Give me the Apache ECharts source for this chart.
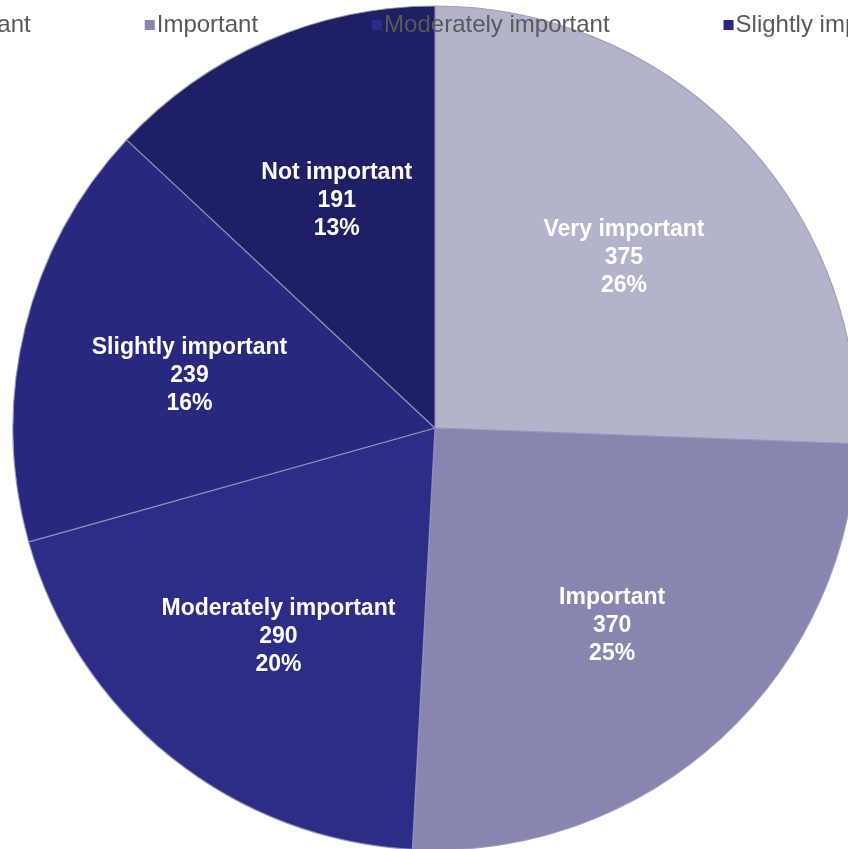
<!DOCTYPE html>
<html>
<head>
<meta charset="utf-8">
<script src="https://cdn.jsdelivr.net/npm/echarts@6/dist/echarts.min.js"></script>
<style>
html,body{margin:0;padding:0;background:#fff;}
#chart{width:848px;height:849px;}
</style>
</head>
<body>
<div id="chart"></div>
<script>
const categories = ['Very important', 'Important', 'Moderately important', 'Slightly important', 'Not important'];
const values = [375, 370, 290, 239, 191];
const colors = ['#B3B3CB', '#8886B0', '#2D2D88', '#28287E', '#1F1F66'];

const chart = echarts.init(document.getElementById('chart'), null, {renderer: 'canvas'});
const CX = 435, CY = 428, R = 422;

chart.setOption({
  animation: false,
  backgroundColor: '#ffffff',
  textStyle: {fontFamily: 'Arial, "Liberation Sans", sans-serif'},
  legend: {
    left: -141,
    top: 8,
    width: 1600,
    orient: 'horizontal',
    itemWidth: 10,
    itemHeight: 10,
    itemGap: 114,
    icon: 'rect',
    itemStyle: {borderWidth: 0},
    data: categories,
    textStyle: {color: '#595959', fontSize: 24, fontFamily: 'Arial, "Liberation Sans", sans-serif', padding: [0, 0, 0, -3]}
  },
  series: [{
    type: 'pie',
    center: [CX, CY],
    radius: [0, R],
    startAngle: 90,
    clockwise: true,
    avoidLabelOverlap: false,
    itemStyle: {borderColor: 'rgba(150,150,185,0.85)', borderWidth: 1.2},
    label: {
      show: true,
      position: 'inside',
      color: '#ffffff',
      fontWeight: 'bold',
      fontSize: 23,
      lineHeight: 28,
      fontFamily: 'Arial, "Liberation Sans", sans-serif',
      formatter: function (p) { return p.name + '\n' + p.value + '\n' + Math.round(p.percent) + '%'; }
    },
    labelLine: {show: false},
    labelLayout: function (params) {
      const r = params.labelRect;
      const lx = r.x + r.width / 2, ly = r.y + r.height / 2;
      const k = 1.2;
      return {x: CX + (lx - CX) * k + 4, y: CY + (ly - CY) * k + 8};
    },
    emphasis: {disabled: true},
    data: categories.map(function (c, i) {
      return {name: c, value: values[i], itemStyle: {color: colors[i]}};
    })
  }]
});
</script>
</body>
</html>
